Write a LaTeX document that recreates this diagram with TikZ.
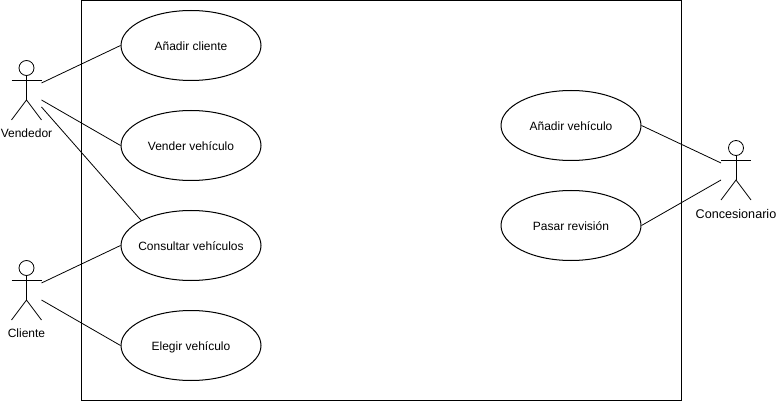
\documentclass[tikz,border=0pt]{standalone}
\usepackage{fontspec}
\setmainfont{Liberation Sans}
\usetikzlibrary{shapes.geometric}
\tikzset{
  x=1pt,y=-1pt,
  uc/.style={draw,ellipse,minimum width=140pt,minimum height=70pt,inner sep=-20pt,font=\fontsize{12}{14}\selectfont,line width=1pt},
  lbl/.style={inner sep=0pt,font=\fontsize{12}{14}\selectfont},
  ln/.style={line width=.8pt,draw=black},
  stick/.style={line width=.8pt},
  sysbox/.style={draw,line width=1pt,minimum width=600pt,minimum height=400pt,inner sep=0pt}
}
\newcommand{\stickman}[2]{%
  \draw[stick] (#1,#2-12) circle[radius=7.5pt];
  \draw[stick] (#1,#2-4.5) -- (#1,#2+20);
  \draw[stick] (#1-15,#2) -- (#1+15,#2);
  \draw[stick] (#1-15,#2+40) -- (#1,#2+20) -- (#1+15,#2+40);
}
\newcommand{\uctext}[1]{\raisebox{-2.5pt}[4.5pt][0pt]{#1}}
\begin{document}
\begin{tikzpicture}
\useasboundingbox (0,0) rectangle (777,401);
\node[sysbox] (sys) at (381.5,200.5) {};
\node[uc] (e1) at (191,45.5) {\uctext{Añadir cliente}};
\node[uc] (e2) at (191,145.5) {\uctext{Vender vehículo}};
\node[uc] (e3) at (191,245.5) {\uctext{Consultar vehículos}};
\node[uc] (e4) at (191,345.5) {\uctext{Elegir vehículo}};
\node[uc] (e5) at (571,125.5) {\uctext{Añadir vehículo}};
\node[uc] (e6) at (571,225.5) {\uctext{Pasar revisión}};
\stickman{26.5}{80}
\stickman{26.5}{280}
\stickman{736}{160}
\node[lbl] (tv) at (26.5,133.5) {Vendedor};
\node[lbl] (tc) at (26.5,333.5) {Cliente};
\node[lbl,font=\fontsize{12.6}{14}\selectfont] (ts) at (736,213.5) {Concesionario};
\coordinate (v1) at (41.5,83);
\coordinate (v2) at (41.5,100);
\coordinate (v3) at (41.5,107);
\coordinate (c1) at (41.5,283);
\coordinate (c2) at (41.5,300);
\coordinate (s1) at (721,163);
\coordinate (s2) at (721,180);
\draw[ln] (v1) -- (e1.west);
\draw[ln] (v2) -- (e2.west);
\draw[ln] (v3) -- (e3.north west);
\draw[ln] (c1) -- (e3.west);
\draw[ln] (c2) -- (e4.west);
\draw[ln] (s1) -- (e5.east);
\draw[ln] (s2) -- (e6.east);
\end{tikzpicture}
\end{document}
